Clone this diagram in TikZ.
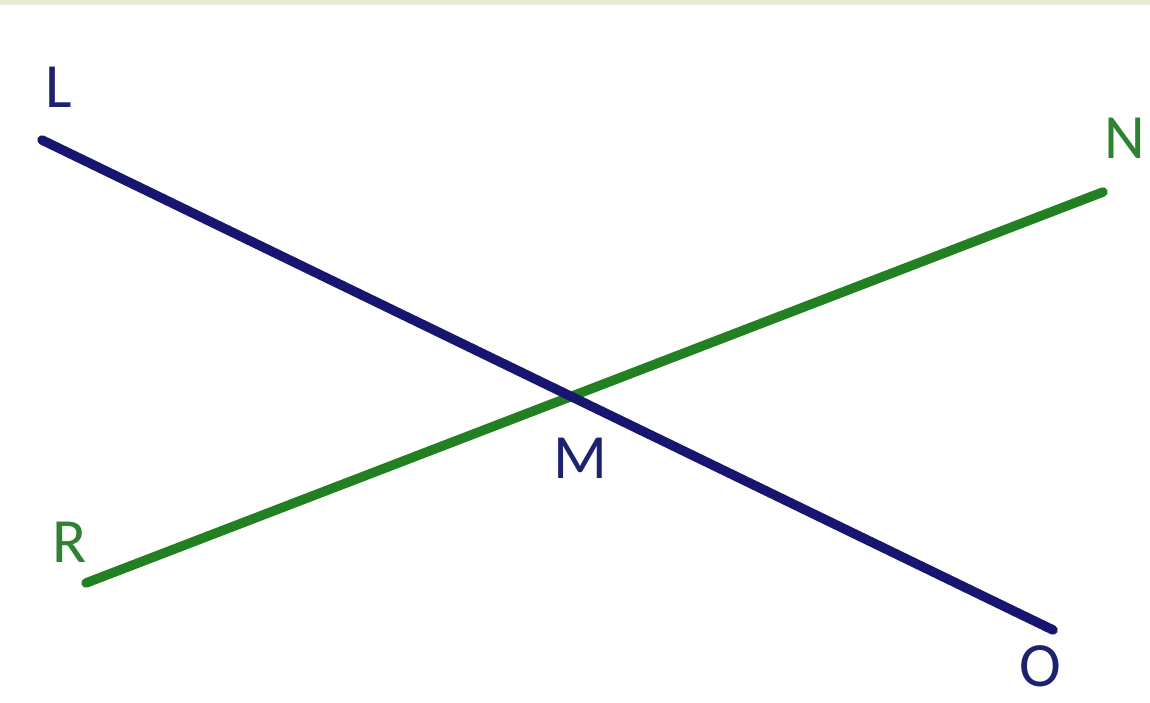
\documentclass[tikz,border=0pt]{standalone}
\usepackage{fontspec}
\setmainfont{Carlito}
\definecolor{navyline}{RGB}{22,22,112}
\definecolor{greenline}{RGB}{34,128,34}
\definecolor{navytext}{RGB}{28,34,110}
\definecolor{greentext}{RGB}{46,130,50}
\definecolor{topstrip}{RGB}{232,238,212}
\begin{document}
\begin{tikzpicture}[x=1pt,y=-1pt,
  seg/.style={line width=9.5pt,line cap=round},
  lbl/.style={font=\fontsize{63}{70}\selectfont,inner sep=0pt,anchor=base}]
\useasboundingbox (0,0) rectangle (1150,702);
\fill[white] (0,0) rectangle (1150,702);
\fill[topstrip] (0,0) rectangle (1150,5);
\coordinate (Lp) at (42,140);
\coordinate (Op) at (1053,630);
\coordinate (Np) at (1103,192);
\coordinate (Rp) at (86,583);
\draw[seg,greenline] (Rp) -- (Np);
\draw[seg,navyline] (Lp) -- (Op);
\node[lbl,text=navytext] (L) at (59,107) {L};
\node[lbl,text=greentext] (N) at (1125,158) {N};
\node[lbl,text=navytext] (M) at (580,478) {M};
\node[lbl,text=greentext] (R) at (70,562) {R};
\node[lbl,text=navytext] (O) at (1040,686) {O};
\end{tikzpicture}
\end{document}
